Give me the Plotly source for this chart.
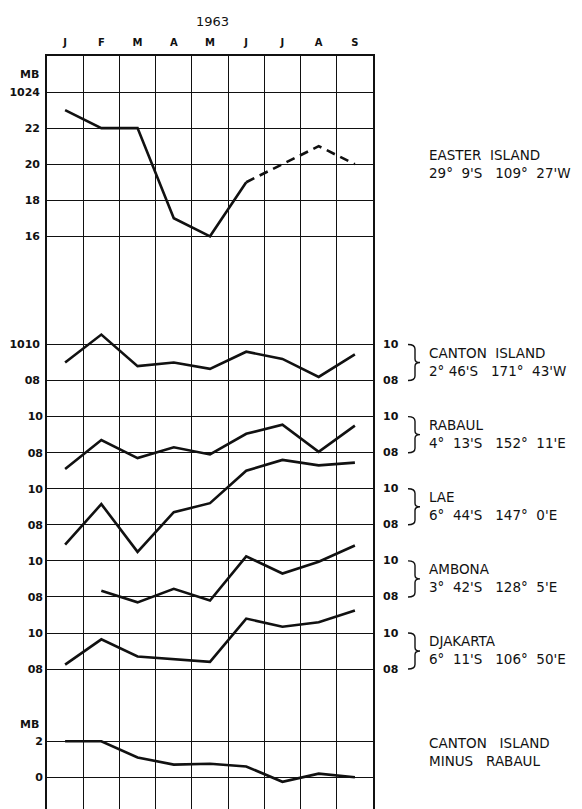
import plotly.graph_objects as go

# ---------------- data ----------------
months = ["Jan", "Feb", "Mar", "Apr", "May", "Jun", "Jul", "Aug", "Sep"]
month_letters = ["J", "F", "M", "A", "M", "J", "J", "A", "S"]

easter = [1023.0, 1022.0, 1022.0, 1017.0, 1016.0, 1019.0, 1020.0, 1021.0, 1020.0]
canton = [1009.0, 1010.55, 1008.8, 1009.0, 1008.65, 1009.6, 1009.2, 1008.2, 1009.45]
rabaul = [1007.1, 1008.7, 1007.7, 1008.3, 1007.9, 1009.05, 1009.55, 1008.05, 1009.5]
lae = [1006.9, 1009.15, 1006.5, 1008.7, 1009.2, 1011.0, 1011.6, 1011.3, 1011.45]
ambona = [None, 1008.35, 1007.7, 1008.45, 1007.8, 1010.25, 1009.3, 1009.95, 1010.85]
djakarta = [1008.25, 1009.65, 1008.7, 1008.55, 1008.4, 1010.8, 1010.35, 1010.6, 1011.25]
canton_minus_rabaul = [2.0, 2.0, 1.1, 0.7, 0.75, 0.6, -0.25, 0.2, 0.0]

easter_ticks = [1024, 1022, 1020, 1018, 1016, 1010, 1008]
easter_ticktext = ["1024", "22", "20", "18", "16", "1010", "08"]
station_ticks = [1008, 1010]
station_ticktext = ["08", "10"]
diff_ticks = [0, 2]
diff_ticktext = ["0", "2"]

NB = "&nbsp;"
station_labels = {
    "easter": f"EASTER{NB*2}ISLAND<br>29°{NB*2}9'S{NB*3}109°{NB*2}27'W",
    "canton": f"CANTON{NB*2}ISLAND<br>2°{NB}46'S{NB*3}171°{NB*2}43'W",
    "rabaul": f"RABAUL<br>4°{NB*2}13'S{NB*3}152°{NB*2}11'E",
    "lae": f"LAE<br>6°{NB*2}44'S{NB*3}147°{NB*2}0'E",
    "ambona": f"AMBONA<br>3°{NB*2}42'S{NB*3}128°{NB*2}5'E",
    "djakarta": f"DJAKARTA<br>6°{NB*2}11'S{NB*3}106°{NB*2}50'E",
    "diff": f"CANTON{NB*3}ISLAND<br>MINUS{NB*3}RABAUL",
}

# ---------------- layout geometry ----------------
PAGE_OFFSET = 8            # default body margin of the html page
W, H = 582 - PAGE_OFFSET, 809 - PAGE_OFFSET
ML, MR, MT, MB_ = 47 - PAGE_OFFSET, 209, 56 - PAGE_OFFSET, 0
main_range = [984.24, 1026.0]
# vertical shift of each panel's scale relative to the Easter/Canton scale
shift_rabaul, shift_lae, shift_ambona, shift_djakarta = 4, 8, 12, 16
diff_zero_on_main = 986.0

BLACK = "#111111"
LINE_W = 2.6
tick_font = dict(family="DejaVu Sans", size=11, color=BLACK, weight="bold")
text_font = dict(family="DejaVu Sans", size=13.5, color=BLACK)
STANDOFF = 3

fig = go.Figure()

def add_line(y, yaxis, dash="solid", x=months):
    fig.add_trace(go.Scatter(x=x, y=y, mode="lines", yaxis=yaxis,
                             line=dict(color=BLACK, width=LINE_W, dash=dash),
                             connectgaps=False, showlegend=False, hoverinfo="skip"))

add_line(easter[:6], "y", x=months[:6])
add_line(easter[5:], "y", dash="9px,6px", x=months[5:])
add_line(canton, "y")
add_line(rabaul, "y3")
add_line(lae, "y4")
add_line(ambona, "y5")
add_line(djakarta, "y6")
add_line(canton_minus_rabaul, "y7")

grid = dict(showgrid=True, gridcolor=BLACK, gridwidth=1.2, zeroline=False, automargin=False)

def station_axis(shift):
    return dict(overlaying="y", anchor="x", side="left",
                range=[main_range[0] + shift, main_range[1] + shift],
                tickvals=station_ticks, ticktext=station_ticktext,
                tickfont=tick_font, ticks="", ticklabelstandoff=STANDOFF,
                showline=False, **grid)

fig.update_layout(
    width=W, height=H,
    margin=dict(l=ML, r=MR, t=MT, b=MB_, pad=0, autoexpand=False),
    paper_bgcolor="white", plot_bgcolor="white",
    showlegend=False,
    xaxis=dict(type="category", categoryorder="array", categoryarray=months,
               range=[-0.5, 8.5], side="top", tickson="boundaries",
               tickvals=months, ticktext=month_letters,
               tickfont=dict(family="DejaVu Sans", size=10, color=BLACK, weight="bold"),
               ticks="", ticklabelstandoff=4,
               showline=True, linecolor=BLACK, linewidth=1.6, mirror=True, **grid),
    yaxis=dict(range=main_range, tickvals=easter_ticks, ticktext=easter_ticktext,
               tickfont=tick_font, ticks="", ticklabelstandoff=STANDOFF,
               showline=True, linecolor=BLACK, linewidth=1.6, mirror=True, **grid),
    yaxis3=station_axis(shift_rabaul),
    yaxis4=station_axis(shift_lae),
    yaxis5=station_axis(shift_ambona),
    yaxis6=station_axis(shift_djakarta),
    yaxis7=dict(overlaying="y", anchor="x", side="left",
                range=[main_range[0] - diff_zero_on_main, main_range[1] - diff_zero_on_main],
                tickvals=diff_ticks, ticktext=diff_ticktext,
                tickfont=tick_font, ticks="", ticklabelstandoff=STANDOFF,
                showline=False, **grid),
)

def px_to_paper_x(px):
    # px measured on the screen
    return (px - PAGE_OFFSET - ML) / (W - ML - MR)

annotations = []
annotations.append(dict(text="1963", x=px_to_paper_x(212), y=1.046, xref="paper", yref="paper",
                        showarrow=False, font=dict(family="DejaVu Sans", size=13, color=BLACK),
                        xanchor="center", yanchor="middle"))
annotations.append(dict(text="MB", x=px_to_paper_x(41), y=1025.0, xref="paper", yref="y", showarrow=False,
                        font=tick_font, xanchor="right", yanchor="middle"))
annotations.append(dict(text="MB", x=px_to_paper_x(41), y=2.95, xref="paper", yref="y7", showarrow=False,
                        font=tick_font, xanchor="right", yanchor="middle"))

text_x = px_to_paper_x(427)
right_tick_x = px_to_paper_x(381)
annotations.append(dict(text=station_labels["easter"], x=text_x, y=1020.0, xref="paper", yref="y",
                        showarrow=False, font=text_font, xanchor="left", yanchor="middle", align="left"))
annotations.append(dict(text=station_labels["diff"], x=text_x, y=1.4, xref="paper", yref="y7",
                        showarrow=False, font=text_font, xanchor="left", yanchor="middle", align="left"))

shapes = []
bx0, bx1, bx2 = px_to_paper_x(408), px_to_paper_x(415), px_to_paper_x(420)
for key, yref in [("canton", "y"), ("rabaul", "y3"), ("lae", "y4"), ("ambona", "y5"), ("djakarta", "y6")]:
    annotations.append(dict(text=station_labels[key], x=text_x, y=1009.05, xref="paper", yref=yref,
                            showarrow=False, font=text_font, xanchor="left", yanchor="middle", align="left"))
    for v, t in zip(station_ticks, station_ticktext):
        annotations.append(dict(text=t, x=right_tick_x, y=v, xref="paper", yref=yref, showarrow=False,
                                font=tick_font, xanchor="left", yanchor="middle"))
    path = (f"M {bx0},1010 Q {bx1},1010 {bx1},1009.75 L {bx1},1009.2 "
            f"Q {bx1},1009.0 {bx2},1009.0 Q {bx1},1009.0 {bx1},1008.8 "
            f"L {bx1},1008.25 Q {bx1},1008 {bx0},1008")
    shapes.append(dict(type="path", path=path, xref="paper", yref=yref,
                       line=dict(color=BLACK, width=1.4)))

fig.update_layout(annotations=annotations, shapes=shapes)

fig.write_html("out.html")
